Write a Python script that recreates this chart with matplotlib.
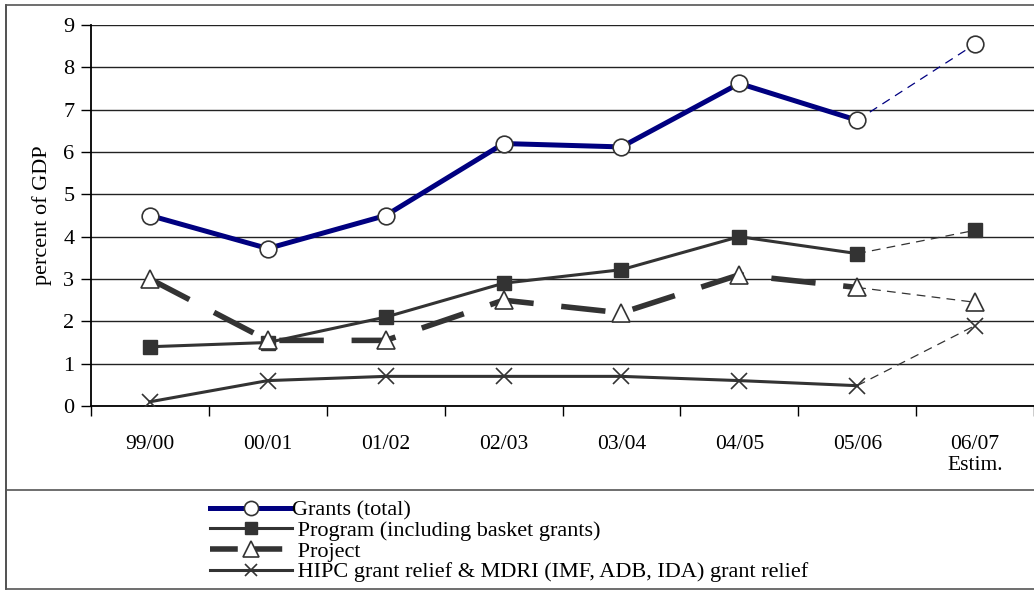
import numpy as np
import matplotlib.pyplot as plt
from matplotlib.lines import Line2D

plt.rcParams['font.family'] = ['Liberation Serif', 'DejaVu Serif']

years = ['99/00', '00/01', '01/02', '02/03', '03/04', '04/05', '05/06', '06/07\nEstim.']
grants = [4.5, 3.72, 4.5, 6.2, 6.12, 7.62, 6.75, 8.55]
program = [1.4, 1.5, 2.1, 2.9, 3.22, 4.0, 3.6, 4.15]
project = [3.0, 1.55, 1.55, 2.5, 2.2, 3.1, 2.8, 2.45]
hipc = [0.1, 0.6, 0.7, 0.7, 0.7, 0.6, 0.48, 1.9]

labels = ['Grants (total)',
          ' Program (including basket grants)',
          ' Project',
          ' HIPC grant relief & MDRI (IMF, ADB, IDA) grant relief']

navy = '#000080'
grey = '#333333'

fig = plt.figure(figsize=(10.34, 5.94), dpi=100)
ax = fig.add_axes([91 / 1034, 1 - 406 / 594, 1 - 91 / 1034, (406 - 25) / 594])

x = np.arange(len(years))
last = len(years) - 1

styles = [
    dict(data=grants, color=navy, lw=3.6, ls='-', marker='o', ms=12, mfc='white', mec=grey, mew=1.2),
    dict(data=program, color=grey, lw=2.2, ls='-', marker='s', ms=10, mfc=grey, mec=grey, mew=1),
    dict(data=project, color=grey, lw=4, ls=(0, (8, 5)), marker='^', ms=13, mfc='white', mec=grey, mew=1.2),
    dict(data=hipc, color=grey, lw=2.2, ls='-', marker='x', ms=11, mfc='none', mec=grey, mew=1.2),
]

handles = []
for st, lab in zip(styles, labels):
    d = st['data']
    # estimated year joined with a thin dashed line
    ax.plot(x[last - 1:], d[last - 1:], color=st['color'], lw=0.9, ls=(0, (7, 5)), zorder=3)
    ax.plot(x[:last], d[:last], color=st['color'], lw=st['lw'], ls=st['ls'], zorder=4)
    ax.plot(x, d, ls='none', marker=st['marker'], ms=st['ms'], mfc=st['mfc'],
            mec=st['mec'], mew=st['mew'], zorder=5)
    handles.append(Line2D([], [], color=st['color'], lw=st['lw'],
                          ls='-' if st['ls'] == '-' else (0, (5, 3)),
                          marker=st['marker'], ms=st['ms'] * 0.85, mfc=st['mfc'],
                          mec=st['mec'], mew=st['mew']))

ax.set_xlim(-0.5, len(years) - 0.5)
ax.set_ylim(0, 9)
ax.set_yticks(range(0, 10))
ax.set_xticks(x)
ax.set_xticklabels(years, fontsize=15.5, linespacing=1.15)
ax.tick_params(axis='x', which='major', length=0, pad=21)
ax.set_xticks(np.arange(-0.5, len(years)), minor=True)
ax.tick_params(axis='x', which='minor', length=7, width=1, direction='out')
ax.tick_params(axis='y', labelsize=16, length=7, width=1, direction='out', pad=5)
ax.grid(axis='y', color='#222222', lw=1)
ax.set_axisbelow(True)
for s in ['top', 'right']:
    ax.spines[s].set_visible(False)
ax.spines['left'].set_linewidth(1.3)
ax.spines['bottom'].set_linewidth(1.3)
ax.set_ylabel('percent of GDP', fontsize=16, labelpad=8)

# outer frame and legend box
fig.add_artist(Line2D([6 / 1034, 6 / 1034], [1 - 5 / 594, 1 - 589 / 594], color='#333333', lw=1.2))
for yy in (5, 490, 589):
    fig.add_artist(Line2D([6 / 1034, 1], [1 - yy / 594] * 2, color='#555555', lw=1.2))

fig.legend(handles, labels, loc='upper left', bbox_to_anchor=(199 / 1034, 1 - 489 / 594),
           frameon=False, fontsize=16, handlelength=3.7, handletextpad=0.0,
           labelspacing=0.0, borderpad=0)

fig.savefig('out.png', dpi=100)
